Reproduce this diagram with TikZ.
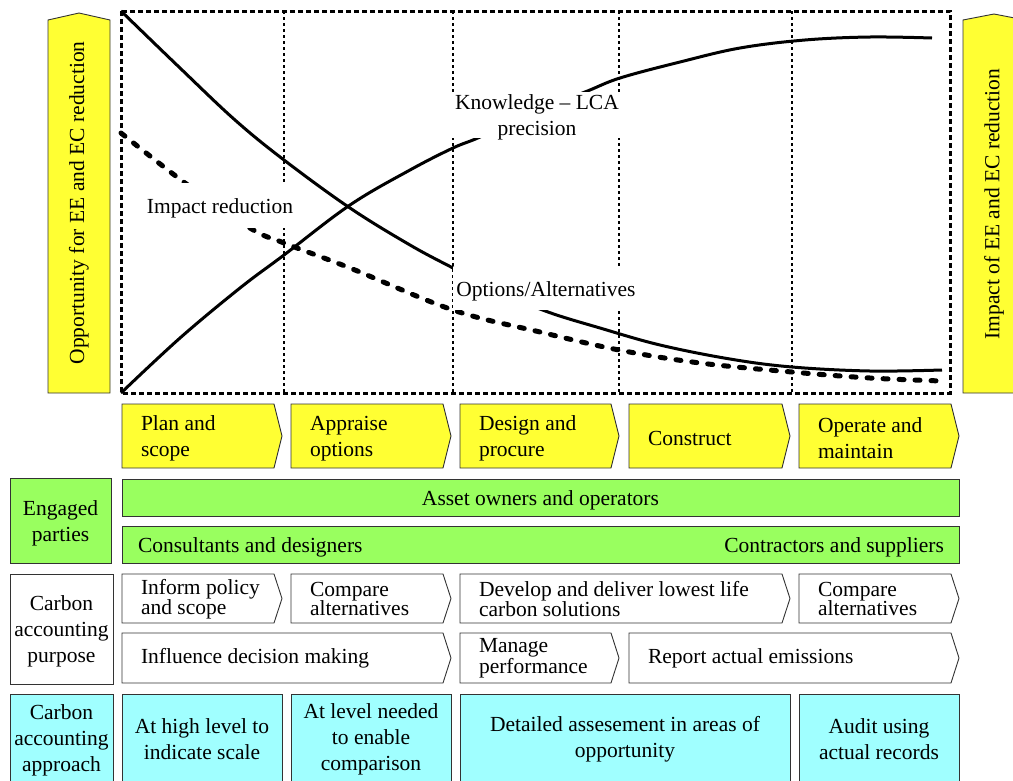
\documentclass[tikz,border=0pt]{standalone}
\usepackage{fontspec}
\setmainfont{Liberation Serif}
\definecolor{cyel}{HTML}{FFFF33}
\definecolor{cgrn}{HTML}{99FF5F}
\definecolor{ccyn}{HTML}{A0FFFF}
\newcommand\chevbox[8]{%
  \draw[box,fill=#6] (#2,#3) -- ({#4-8},#3) -- (#4,{(#3+#5)/2}) -- ({#4-8},#5) -- (#2,#5) -- cycle;
  \node[anchor=west,align=left,#8] (#1) at ({#2+19},{(#3+#5)/2+2.5}) {#7};
}
\begin{document}
\begin{tikzpicture}[x=1pt,y=-1pt,line join=miter,
  every node/.style={font=\fontsize{21.5}{26}\selectfont,inner sep=0pt,outer sep=0pt},
  box/.style={draw=black!80,line width=0.9pt},
  tight/.style={font=\fontsize{21.5}{19.5}\selectfont,yshift=2pt},
  curve/.style={line width=3pt},
  dcurve/.style={line width=5pt,line cap=round,dash pattern=on 5pt off 11pt},
  grid/.style={line width=2pt,dash pattern=on 3pt off 3pt},
  frame/.style={line width=3pt,dash pattern=on 5pt off 3pt},
  ctext/.style={align=center}]
\useasboundingbox (0,0) rectangle (1013,780);

% side arrows
\draw[box,fill=cyel] (48,20) -- (79,13) -- (110,20) -- (110,393) -- (48,393) -- cycle;
\node[rotate=90] (opp) at (79,203) {Opportunity for EE and EC reduction};
\draw[box,fill=cyel] (963,20) -- (994,14) -- (1025,20) -- (1025,393) -- (963,393) -- cycle;
\node[rotate=90] (imp) at (994,204) {Impact of EE and EC reduction};

% chart grid
\foreach \gx in {284,453,619,792} \draw[grid] (\gx,11) -- (\gx,393);

% curves
\draw[curve] plot[smooth,tension=0.6] coordinates {(121,11) (180,68) (235,120) (284,160) (350,208) (410,245) (453,268) (500,292) (548,312) (600,328) (660,345) (730,359) (792,367) (870,371) (942,370)};
\draw[curve] plot[smooth,tension=0.6] coordinates {(121,393) (180,338) (240,288) (284,255) (350,205) (410,170) (453,148) (480,137) (530,113) (585,92) (620,78) (680,62) (740,48) (805,40) (870,37) (932,38)};
\draw[dcurve] plot[smooth,tension=0.6] coordinates {(121,133) (185,183) (250,228) (284,243) (350,268) (453,310) (540,332) (619,350) (700,363) (792,372) (870,378) (942,381)};

% chart labels (white masks, then text)
\fill[white] (442,92) rectangle (632,138);
\node[ctext] (know) at (537,117.5) {Knowledge -- LCA\\precision};
\fill[white] (453,267) rectangle (640,310);
\node[ctext] (opts) at (546,291) {Options/Alternatives};
\fill[white] (140,183) rectangle (300,228);
\node[ctext] (impr) at (220,208) {Impact reduction};

% frame
\draw[frame] (121,11) rectangle (950,393);

% stages
\chevbox{s1}{122}{404}{282}{468}{cyel}{Plan and\\scope}{}
\chevbox{s2}{291}{404}{451}{468}{cyel}{Appraise\\options}{}
\chevbox{s3}{460}{404}{619}{468}{cyel}{Design and\\procure}{}
\chevbox{s4}{629}{404}{790}{468}{cyel}{Construct}{}
\chevbox{s5}{799}{404}{959}{468}{cyel}{Operate and\\maintain}{}

% engaged parties
\draw[box,fill=cgrn] (10,478) rectangle (111,563);
\node[ctext] (ep) at (60.5,523) {Engaged\\parties};
\draw[box,fill=cgrn] (122,479) rectangle (959,516);
\node (own) at (540.5,500) {Asset owners and operators};
\draw[box,fill=cgrn] (122,526) rectangle (959,563);
\node[anchor=west] (cd) at (138,547) {Consultants and designers};
\node[anchor=east] (cs) at (944,547) {Contractors and suppliers};

% purpose
\draw[box,fill=white] (10,574) rectangle (113,684);
\node[ctext] (cap) at (61.5,631.5) {Carbon\\accounting\\purpose};
\chevbox{p1}{122}{574}{282}{623}{white}{Inform policy\\and scope}{tight}
\chevbox{p2}{291}{574}{451}{623}{white}{Compare\\alternatives}{tight}
\chevbox{p3}{460}{574}{790}{623}{white}{Develop and deliver lowest life\\carbon solutions}{tight}
\chevbox{p4}{799}{574}{959}{623}{white}{Compare\\alternatives}{tight}
\chevbox{q1}{122}{633}{451}{683}{white}{Influence decision making}{tight}
\chevbox{q2}{460}{633}{619}{683}{white}{Manage\\performance}{tight}
\chevbox{q3}{629}{633}{959}{683}{white}{Report actual emissions}{tight}

% approach
\draw[box,fill=ccyn] (10,694) rectangle (113,790);
\node[ctext] (caa) at (61.5,740) {Carbon\\accounting\\approach};
\draw[box,fill=ccyn] (122,694) rectangle (282,790);
\node[ctext] (a1) at (202,739) {At high level to\\indicate scale};
\draw[box,fill=ccyn] (291,694) rectangle (451,790);
\node[ctext] (a2) at (371,739.5) {At level needed\\to enable\\comparison};
\draw[box,fill=ccyn] (460,694) rectangle (790,790);
\node[ctext] (a3) at (625,739) {Detailed assesement in areas of\\opportunity};
\draw[box,fill=ccyn] (799,694) rectangle (959,790);
\node[ctext] (a4) at (879,739) {Audit using\\actual records};
\end{tikzpicture}
\end{document}
